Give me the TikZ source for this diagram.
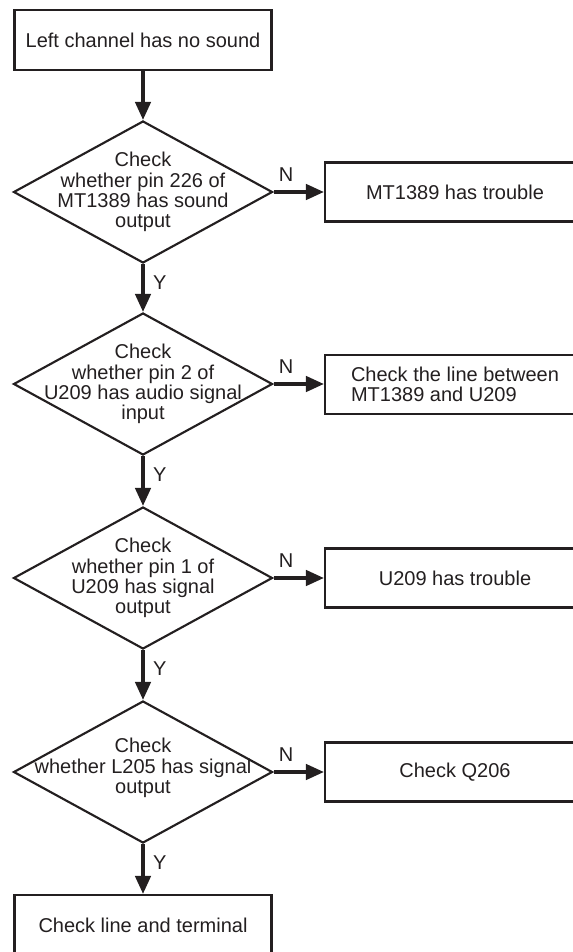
\documentclass[tikz,border=0pt]{standalone}
\usepackage{fontspec}
\setmainfont{Liberation Sans}
\usetikzlibrary{shapes.geometric,arrows.meta}

\definecolor{ink}{HTML}{231F20}
\newcommand{\chartfont}{\fontsize{15pt}{15.2pt}\selectfont}

\tikzset{
  flow-box/.style={rectangle, draw=ink, line width=1.6pt, minimum width=192.75pt, minimum height=45pt, inner sep=0pt, font=\chartfont, text=ink},
  flow-result/.style={flow-box, minimum width=195pt, minimum height=44.25pt},
  flow-decision/.style={diamond, draw=ink, line width=1.6pt, minimum width=194.25pt, minimum height=106.5pt, inner sep=0pt},
  flow-text/.style={align=center, font=\chartfont, text=ink, inner sep=0pt},
  flow-arrow/.style={-{Triangle[length=13.5pt, width=11.5pt]}, line width=2.6pt, draw=ink},
  flow-small/.style={font=\chartfont, text=ink},
}

\begin{document}
\begin{tikzpicture}[x=0.75pt, y=-0.75pt]
    \useasboundingbox (0,0) rectangle (573,952);

    % Nodes: main column
    \node[flow-box] (start) at (143, 40) {Left channel has no sound};

    \node[flow-decision] (d1) at (143, 192) {};
    \node[flow-text] (d1t) at (d1) {Check\\whether pin 226 of\\MT1389 has sound\\output};

    \node[flow-decision] (d2) at (143, 384) {};
    \node[flow-text] (d2t) at (d2) {Check\\whether pin 2 of\\U209 has audio signal\\input};

    \node[flow-decision] (d3) at (143, 578) {};
    \node[flow-text] (d3t) at (d3) {Check\\whether pin 1 of\\U209 has signal\\output};

    \node[flow-decision] (d4) at (143, 772) {};
    \node[flow-text] (d4t) at ([yshift=3pt]d4) {Check\\whether L205 has signal\\output};

    \node[flow-box] (finish) at (143, 925) {Check line and terminal};

    % Nodes: right column (results)
    \node[flow-result] (r1) at (455, 192) {MT1389 has trouble};
    \node[flow-result, align=left] (r2) at (455, 384.5) {Check the line between\\MT1389 and U209};
    \node[flow-result] (r3) at (455, 578) {U209 has trouble};
    \node[flow-result] (r4) at (455, 772) {Check Q206};

    % Edges: Y branch
    \draw[flow-arrow] (start) -- (d1);
    \draw[flow-arrow] (d1) -- node[flow-small, right=3pt, pos=0.38] {Y} (d2);
    \draw[flow-arrow] (d2) -- node[flow-small, right=3pt, pos=0.38] {Y} (d3);
    \draw[flow-arrow] (d3) -- node[flow-small, right=3pt, pos=0.38] {Y} (d4);
    \draw[flow-arrow] (d4) -- node[flow-small, right=3pt, pos=0.38] {Y} (finish);

    % Edges: N branch
    \draw[flow-arrow] (d1.east) -- node[flow-small, above=3pt, pos=0.25] {N} (r1.west);
    \draw[flow-arrow] (d2.east) -- node[flow-small, above=3pt, pos=0.25] {N} (r2.west |- d2.east);
    \draw[flow-arrow] (d3.east) -- node[flow-small, above=3pt, pos=0.25] {N} (r3.west);
    \draw[flow-arrow] (d4.east) -- node[flow-small, above=3pt, pos=0.25] {N} (r4.west);

\end{tikzpicture}
\end{document}
